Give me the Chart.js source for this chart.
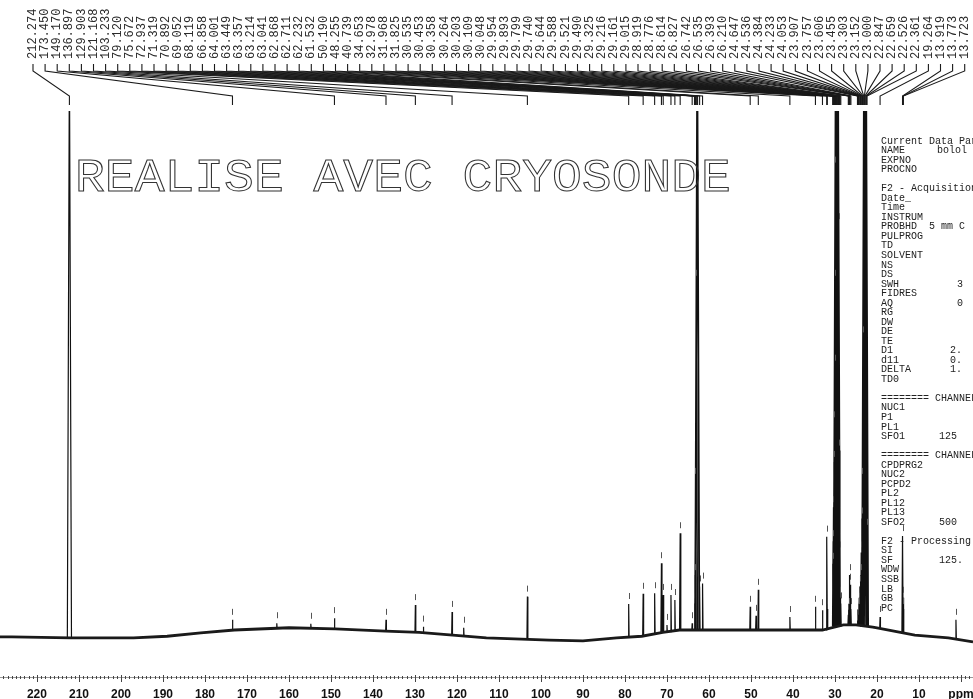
<!DOCTYPE html>
<html>
<head>
<meta charset="utf-8">
<title>13C spectrum</title>
<script src="https://cdn.jsdelivr.net/npm/chart.js@4.4.1/dist/chart.umd.min.js"></script>
<style>
  html, body { margin: 0; padding: 0; background: #fff; }
  canvas { display: block; }
</style>
</head>
<body>
<canvas id="spectrum" width="973" height="699"></canvas>
<script>
// baseline of the spectrum (ppm, intensity)
const basePpm = [228.8, 226, 212, 197, 189, 181, 173, 160, 149, 137, 129, 121, 113, 98, 90, 82, 76, 71, 67, 59, 43, 33, 28, 25, 21, 20, 11, 3, -2.86];
const baseInt = [7.1, 7.1, 6.9, 6.9, 7.2, 7.8, 8.3, 8.7, 8.5, 8.1, 7.9, 7.4, 6.9, 6.5, 6.4, 6.9, 7.2, 7.9, 8.3, 8.3, 8.3, 8.3, 9.2, 9.2, 8.8, 8.7, 7.4, 6.9, 6.2];

// peaks: position, foot level, top
const peakPpm = [212.274, 173.450, 162.9, 154.8, 149.170, 136.897, 129.903, 128.0, 121.168, 118.4,
  103.233, 79.120, 75.672, 72.937, 71.319, 70.892, 70.0, 69.052, 68.119, 66.858,
  64.001, 63.449, 63.357, 63.214, 63.041, 62.868, 62.711, 62.232, 61.532,
  50.190, 48.8, 48.255, 40.739, 34.653, 32.978, 31.968, 31.825,
  30.535, 30.453, 30.358, 30.264, 30.203, 30.109, 30.048, 29.954, 29.893, 29.799, 29.740, 29.644,
  29.588, 29.521, 29.490, 29.325, 29.216, 29.161, 29.015, 28.919, 28.776, 28.614,
  26.827, 26.742, 26.535, 26.393, 26.210, 24.647, 24.536, 24.384, 24.233, 24.053,
  23.907, 23.757, 23.606, 23.455, 23.303, 23.152, 23.000, 22.847, 22.659, 22.526, 22.361,
  19.264, 13.919, 13.773, 13.723, 1.2];
const peakFoot = [6.9, 8.3, 8.6, 8.6, 8.5, 8.1, 7.9, 7.9, 7.4, 7.2,
  6.6, 7.0, 7.2, 7.6, 7.9, 7.9, 7.9, 8.0, 8.1, 8.2,
  8.3, 8.3, 8.3, 8.3, 8.3, 8.3, 8.3, 8.3, 8.3,
  8.3, 8.3, 8.3, 8.3, 8.3, 8.3, 8.3, 8.3,
  9, 9, 9, 9, 9, 9, 9, 9, 9, 9, 9, 9,
  9, 9, 9, 9, 9, 9, 9, 9, 9, 9,
  9.2, 9.2, 9.2, 9.2, 9.2, 9.2, 9.2, 9.2, 9.2, 9.2,
  9, 9, 9, 9, 9, 9, 9, 9, 9, 9, 9,
  8.6, 7.6, 7.6, 7.6, 6.8];
const peakTop = [110, 10.1, 9.5, 9.4, 10.4, 10.1, 12.7, 8.9, 11.5, 8.7,
  14.2, 12.9, 14.7, 14.8, 20.1, 14.5, 9.2, 14.5, 13.6, 25.4,
  9.5, 13, 18, 35, 70, 110, 110, 16, 16.5,
  12.4, 10.8, 15.4, 10.6, 12.4, 11.8, 24.8, 12,
  20, 24, 30, 38, 45, 55, 70, 90, 110, 110, 110, 110,
  110, 110, 110, 110, 110, 80, 40, 22, 14, 13,
  11, 12, 18, 16.3, 12, 10, 11, 12, 14, 16,
  18, 22, 28, 35, 60, 110, 110, 110, 110, 110, 26,
  10.6, 24.9, 14, 12, 10.1];

// peak pick list printed along the top
const peakLabels = ['212.274', '173.450', '149.170', '136.897', '129.903', '121.168', '103.233', '79.120',
  '75.672', '72.937', '71.319', '70.892', '69.052', '68.119', '66.858', '64.001', '63.449', '63.357',
  '63.214', '63.041', '62.868', '62.711', '62.232', '61.532', '50.190', '48.255', '40.739', '34.653',
  '32.978', '31.968', '31.825', '30.535', '30.453', '30.358', '30.264', '30.203', '30.109', '30.048',
  '29.954', '29.893', '29.799', '29.740', '29.644', '29.588', '29.521', '29.490', '29.325', '29.216',
  '29.161', '29.015', '28.919', '28.776', '28.614', '26.827', '26.742', '26.535', '26.393', '26.210',
  '24.647', '24.536', '24.384', '24.233', '24.053', '23.907', '23.757', '23.606', '23.455', '23.303',
  '23.152', '23.000', '22.847', '22.659', '22.526', '22.361', '19.264', '13.919', '13.773', '13.723'];

const axisTicks = [220, 210, 200, 190, 180, 170, 160, 150, 140, 130, 120, 110, 100, 90, 80, 70, 60, 50, 40, 30, 20, 10];

const panelKeys = ['Current Data Parameters', 'NAME', 'EXPNO', 'PROCNO', '',
  'F2 - Acquisition Parameters', 'Date_', 'Time', 'INSTRUM', 'PROBHD', 'PULPROG', 'TD', 'SOLVENT',
  'NS', 'DS', 'SWH', 'FIDRES', 'AQ', 'RG', 'DW', 'DE', 'TE', 'D1', 'd11', 'DELTA', 'TD0', '',
  '======== CHANNEL f1 ========', 'NUC1', 'P1', 'PL1', 'SFO1', '',
  '======== CHANNEL f2 ========', 'CPDPRG2', 'NUC2', 'PCPD2', 'PL2', 'PL12', 'PL13', 'SFO2', '',
  'F2 - Processing parameters', 'SI', 'SF', 'WDW', 'SSB', 'LB', 'GB', 'PC'];
const panelValues = { NAME: 'bolol', PROBHD: '5 mm C', SWH: '3', AQ: '0', D1: '2.', d11: '0.', DELTA: '1.', SFO1: '125', SFO2: '500', SF: '125.' };

// ---------- datasets ----------
const baseline = basePpm.map((p, i) => ({ x: p, y: baseInt[i] }));

const peakPoints = [];
peakPpm.forEach((p, i) => {
  const hw = 0.08 + 0.004 * (peakTop[i] - peakFoot[i]);
  peakPoints.push({ x: p + hw, y: peakFoot[i] });
  peakPoints.push({ x: p, y: peakTop[i] });
  peakPoints.push({ x: p - hw, y: peakFoot[i] });
  peakPoints.push({ x: p - hw, y: null });
});

// ---------- decorations ----------
const decor = {
  id: 'decor',
  afterDraw(chart) {
    const ctx = chart.ctx;
    const xs = chart.scales.x;
    const ys = chart.scales.y;
    const area = chart.chartArea;
    ctx.save();

    // little markers above picked peaks
    ctx.strokeStyle = '#555';
    ctx.lineWidth = 1;
    peakPpm.forEach((p, i) => {
      if (peakTop[i] >= 100) return;
      const x = Math.round(xs.getPixelForValue(p)) + 0.5;
      const y = ys.getPixelForValue(peakTop[i]);
      ctx.beginPath();
      ctx.moveTo(x, y - 11);
      ctx.lineTo(x, y - 5);
      ctx.stroke();
    });

    // peak list + connectors
    ctx.fillStyle = '#2a2a2a';
    ctx.strokeStyle = '#1a1a1a';
    ctx.lineWidth = 1.1;
    ctx.font = '12px "Liberation Mono", monospace';
    ctx.textBaseline = 'middle';
    ctx.textAlign = 'left';
    peakLabels.forEach((lab, i) => {
      const lx = 33 + i * 12.1;
      const px = xs.getPixelForValue(parseFloat(lab));
      ctx.save();
      ctx.translate(lx, 59);
      ctx.rotate(-Math.PI / 2);
      ctx.fillText(lab, 0, 0);
      ctx.restore();
      ctx.beginPath();
      ctx.moveTo(lx, 64);
      ctx.lineTo(lx, 71);
      ctx.lineTo(px, 96);
      ctx.lineTo(px, 105);
      ctx.stroke();
    });

    // ppm axis
    const axY = area.bottom;
    ctx.lineWidth = 1;
    ctx.strokeStyle = '#999';
    ctx.beginPath();
    ctx.moveTo(area.left, axY + 0.5);
    ctx.lineTo(area.right, axY + 0.5);
    ctx.stroke();
    ctx.strokeStyle = '#444';
    for (let v = Math.ceil(xs.min); v <= Math.floor(xs.max); v++) {
      const x = Math.round(xs.getPixelForValue(v)) + 0.5;
      ctx.beginPath();
      if (v % 10 === 0) {
        ctx.moveTo(x, axY - 2);
        ctx.lineTo(x, axY + 5);
      } else {
        ctx.moveTo(x, axY - 1);
        ctx.lineTo(x, axY + 2);
      }
      ctx.stroke();
    }
    ctx.fillStyle = '#111';
    ctx.font = 'bold 12px "Liberation Sans", Arial, sans-serif';
    ctx.textAlign = 'center';
    ctx.textBaseline = 'alphabetic';
    axisTicks.forEach(v => ctx.fillText(String(v), xs.getPixelForValue(v), 698));
    ctx.fillText('ppm', xs.getPixelForValue(0), 698);

    // stamp on the plot
    ctx.save();
    ctx.translate(75, 191);
    ctx.scale(1.08, 1);
    ctx.font = '46px "Liberation Mono", monospace';
    ctx.textAlign = 'left';
    ctx.strokeStyle = '#333';
    ctx.lineWidth = 1;
    ctx.strokeText('REALISE AVEC CRYOSONDE', 0, 0);
    ctx.restore();

    // acquisition parameter listing
    ctx.font = '10px "Liberation Mono", monospace';
    ctx.textAlign = 'left';
    ctx.textBaseline = 'middle';
    ctx.fillStyle = '#222';
    const valueX = { NAME: 937, PROBHD: 929, SWH: 957, AQ: 957, D1: 950, d11: 950, DELTA: 950, SFO1: 939, SFO2: 939, SF: 939 };
    panelKeys.forEach((k, i) => {
      const y = 141 + i * 9.53;
      if (k) ctx.fillText(k, 881, y);
      if (panelValues[k]) ctx.fillText(panelValues[k], valueX[k], y);
    });

    ctx.restore();
  }
};

new Chart(document.getElementById('spectrum'), {
  type: 'line',
  data: {
    datasets: [
      { data: baseline, borderColor: '#1a1a1a', borderWidth: 2.8, pointRadius: 0, tension: 0 },
      { data: peakPoints, borderColor: '#111', borderWidth: 1.2, pointRadius: 0, tension: 0, spanGaps: false }
    ]
  },
  options: {
    responsive: false,
    animation: false,
    devicePixelRatio: 1,
    layout: { padding: { top: 111, bottom: 22, left: 0, right: 0 } },
    plugins: { legend: { display: false }, tooltip: { enabled: false } },
    scales: {
      x: { type: 'linear', reverse: true, min: -2.86, max: 228.8, display: false },
      y: { min: 0, max: 100, display: false }
    }
  },
  plugins: [decor]
});
</script>
</body>
</html>
